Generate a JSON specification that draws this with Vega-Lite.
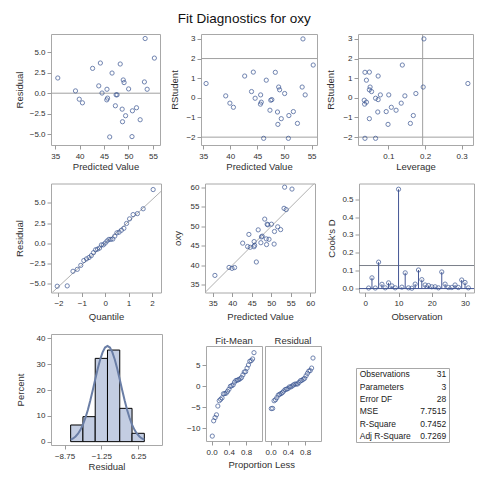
{
"$schema": "https://vega.github.io/schema/vega-lite/v6.json",
"background": "white",
"padding": {"left": 13, "top": 11, "right": 5, "bottom": 5},
"title": {"text": "Fit Diagnostics for oxy", "fontSize": 13.5, "fontWeight": "normal", "anchor": "middle", "offset": 8, "color": "#111111"},
"config": {
  "font": "Liberation Sans",
  "view": {"stroke": "#a8a8a8", "strokeWidth": 1},
  "axis": {"grid": false, "domain": false, "tickColor": "#9a9a9a", "tickSize": 4, "labelFontSize": 8, "labelColor": "#303030", "titleFontSize": 9.5, "titleFontWeight": "normal", "titleColor": "#303030", "labelPadding": 2, "labelFlush": false, "labelOverlap": false},
  "axisX": {"labelPadding": 3, "titlePadding": 1},
  "point": {"shape": "circle", "filled": false, "size": 18, "strokeWidth": 1, "color": "#34508f"}
},
"datasets": {
  "obs": [
    {"obs":1,"pred":44.59,"res":0.02,"rstud":-0.02,"lev":0.065,"cook":0.003,"oxy":44.609},
    {"obs":2,"pred":48.78,"res":-3.47,"rstud":-1.35,"lev":0.099,"cook":0.060,"oxy":45.313},
    {"obs":3,"pred":53.82,"res":0.48,"rstud":0.15,"lev":0.101,"cook":0.003,"oxy":54.297},
    {"obs":4,"pred":55.30,"res":4.27,"rstud":1.67,"lev":0.138,"cook":0.148,"oxy":59.571},
    {"obs":5,"pred":51.64,"res":-1.77,"rstud":-0.70,"lev":0.094,"cook":0.024,"oxy":49.874},
    {"obs":6,"pred":43.92,"res":0.89,"rstud":0.32,"lev":0.054,"cook":0.004,"oxy":44.811},
    {"obs":7,"pred":42.66,"res":3.02,"rstud":1.11,"lev":0.072,"cook":0.032,"oxy":45.681},
    {"obs":8,"pred":46.64,"res":2.45,"rstud":0.90,"lev":0.040,"cook":0.015,"oxy":49.091},
    {"obs":9,"pred":39.16,"res":0.28,"rstud":0.10,"lev":0.145,"cook":0.004,"oxy":39.442},
    {"obs":10,"pred":53.41,"res":6.65,"rstud":3.00,"lev":0.197,"cook":0.556,"oxy":60.055},
    {"obs":11,"pred":48.93,"res":1.61,"rstud":0.55,"lev":0.050,"cook":0.008,"oxy":50.541},
    {"obs":12,"pred":35.54,"res":1.85,"rstud":0.73,"lev":0.317,"cook":0.088,"oxy":37.388},
    {"obs":13,"pred":45.56,"res":-0.81,"rstud":-0.32,"lev":0.035,"cook":0.004,"oxy":44.754},
    {"obs":14,"pred":47.47,"res":-0.20,"rstud":-0.12,"lev":0.034,"cook":0.002,"oxy":47.273},
    {"obs":15,"pred":48.31,"res":3.55,"rstud":1.30,"lev":0.036,"cook":0.025,"oxy":51.855},
    {"obs":16,"pred":52.39,"res":-3.23,"rstud":-1.30,"lev":0.160,"cook":0.104,"oxy":49.156},
    {"obs":17,"pred":46.16,"res":-5.32,"rstud":-2.06,"lev":0.036,"cook":0.050,"oxy":40.836},
    {"obs":18,"pred":49.41,"res":-2.74,"rstud":-1.06,"lev":0.048,"cook":0.020,"oxy":46.672},
    {"obs":19,"pred":48.71,"res":-1.94,"rstud":-0.72,"lev":0.071,"cook":0.017,"oxy":46.774},
    {"obs":20,"pred":49.10,"res":1.29,"rstud":0.41,"lev":0.048,"cook":0.010,"oxy":50.388},
    {"obs":21,"pred":40.58,"res":-1.17,"rstud":-0.48,"lev":0.108,"cook":0.010,"oxy":39.407},
    {"obs":22,"pred":45.60,"res":0.48,"rstud":0.15,"lev":0.078,"cook":0.004,"oxy":46.080},
    {"obs":23,"pred":50.72,"res":-5.28,"rstud":-2.06,"lev":0.065,"cook":0.093,"oxy":45.441},
    {"obs":24,"pred":53.26,"res":1.37,"rstud":0.55,"lev":0.195,"cook":0.025,"oxy":54.625},
    {"obs":25,"pred":45.72,"res":-0.60,"rstud":-0.22,"lev":0.040,"cook":0.006,"oxy":45.118},
    {"obs":26,"pred":39.93,"res":-0.73,"rstud":-0.27,"lev":0.135,"cook":0.006,"oxy":39.203},
    {"obs":27,"pred":47.32,"res":-1.53,"rstud":-0.63,"lev":0.121,"cook":0.020,"oxy":45.790},
    {"obs":28,"pred":50.03,"res":0.52,"rstud":0.22,"lev":0.175,"cook":0.006,"oxy":50.545},
    {"obs":29,"pred":50.81,"res":-2.14,"rstud":-0.90,"lev":0.168,"cook":0.048,"oxy":48.673},
    {"obs":30,"pred":44.25,"res":3.67,"rstud":1.31,"lev":0.048,"cook":0.034,"oxy":47.920},
    {"obs":31,"pred":47.67,"res":-0.20,"rstud":-0.09,"lev":0.072,"cook":0.004,"oxy":47.467}
  ],
  "fitmean": [
    {"p":0.016,"v":-11.84},{"p":0.048,"v":-8.22},{"p":0.081,"v":-7.45},{"p":0.113,"v":-6.80},{"p":0.145,"v":-4.72},
    {"p":0.177,"v":-3.46},{"p":0.210,"v":-3.13},{"p":0.242,"v":-2.79},{"p":0.274,"v":-1.82},{"p":0.306,"v":-1.78},
    {"p":0.339,"v":-1.66},{"p":0.371,"v":-1.22},{"p":0.403,"v":-0.74},{"p":0.435,"v":-0.06},{"p":0.468,"v":0.09},
    {"p":0.500,"v":0.29},{"p":0.532,"v":0.93},{"p":0.565,"v":1.33},{"p":0.597,"v":1.40},{"p":0.629,"v":1.55},
    {"p":0.661,"v":1.72},{"p":0.694,"v":2.03},{"p":0.726,"v":2.65},{"p":0.758,"v":3.34},{"p":0.790,"v":3.43},
    {"p":0.823,"v":4.26},{"p":0.855,"v":5.01},{"p":0.887,"v":5.88},{"p":0.919,"v":6.03},{"p":0.952,"v":6.44},
    {"p":0.984,"v":7.92}
  ],
  "resid": [
    {"p":0.016,"v":-5.32},{"p":0.048,"v":-5.28},{"p":0.081,"v":-3.47},{"p":0.113,"v":-3.23},{"p":0.145,"v":-2.74},
    {"p":0.177,"v":-2.14},{"p":0.210,"v":-1.94},{"p":0.242,"v":-1.77},{"p":0.274,"v":-1.53},{"p":0.306,"v":-1.17},
    {"p":0.339,"v":-0.81},{"p":0.371,"v":-0.73},{"p":0.403,"v":-0.60},{"p":0.435,"v":-0.20},{"p":0.468,"v":-0.20},
    {"p":0.500,"v":0.02},{"p":0.532,"v":0.28},{"p":0.565,"v":0.48},{"p":0.597,"v":0.48},{"p":0.629,"v":0.52},
    {"p":0.661,"v":0.89},{"p":0.694,"v":1.29},{"p":0.726,"v":1.37},{"p":0.758,"v":1.61},{"p":0.790,"v":1.85},
    {"p":0.823,"v":2.45},{"p":0.855,"v":3.02},{"p":0.887,"v":3.55},{"p":0.919,"v":3.67},{"p":0.952,"v":4.27},
    {"p":0.984,"v":6.65}
  ],
  "qq": [
    {"q":-2.054,"r":-5.32},{"q":-1.626,"r":-5.28},{"q":-1.379,"r":-3.47},{"q":-1.195,"r":-3.23},{"q":-1.045,"r":-2.74},
    {"q":-0.915,"r":-2.14},{"q":-0.800,"r":-1.94},{"q":-0.693,"r":-1.77},{"q":-0.595,"r":-1.53},{"q":-0.502,"r":-1.17},
    {"q":-0.412,"r":-0.81},{"q":-0.327,"r":-0.73},{"q":-0.243,"r":-0.60},{"q":-0.161,"r":-0.20},{"q":-0.080,"r":-0.20},
    {"q":0.000,"r":0.02},{"q":0.080,"r":0.28},{"q":0.161,"r":0.48},{"q":0.243,"r":0.48},{"q":0.327,"r":0.52},
    {"q":0.412,"r":0.89},{"q":0.502,"r":1.29},{"q":0.595,"r":1.37},{"q":0.693,"r":1.61},{"q":0.800,"r":1.85},
    {"q":0.915,"r":2.45},{"q":1.045,"r":3.02},{"q":1.195,"r":3.55},{"q":1.379,"r":3.67},{"q":1.626,"r":4.27},
    {"q":2.054,"r":6.65}
  ],
  "qqline": [{"q":-2.6,"r":-6.99},{"q":2.6,"r":6.99}],
  "diag": [{"pred":32,"oxy":32},{"pred":62,"oxy":62}],
  "hist": [
    {"lo":-7.5,"hi":-5,"pct":6.45},{"lo":-5,"hi":-2.5,"pct":9.68},{"lo":-2.5,"hi":0,"pct":32.26},
    {"lo":0,"hi":2.5,"pct":35.48},{"lo":2.5,"hi":5,"pct":12.90},{"lo":5,"hi":7.5,"pct":3.23}
  ],
  "normal": [
    {"lo":-7.5,"pct":0.76},{"lo":-7,"pct":1.25},{"lo":-6.5,"pct":2.00},{"lo":-6,"pct":3.08},{"lo":-5.5,"pct":4.58},{"lo":-5,"pct":6.59},
    {"lo":-4.5,"pct":9.15},{"lo":-4,"pct":12.27},{"lo":-3.5,"pct":15.90},{"lo":-3,"pct":19.91},{"lo":-2.5,"pct":24.08},{"lo":-2,"pct":28.13},
    {"lo":-1.5,"pct":31.74},{"lo":-1,"pct":34.60},{"lo":-0.5,"pct":36.45},{"lo":0,"pct":37.08},{"lo":0.5,"pct":36.45},{"lo":1,"pct":34.60},
    {"lo":1.5,"pct":31.74},{"lo":2,"pct":28.13},{"lo":2.5,"pct":24.08},{"lo":3,"pct":19.91},{"lo":3.5,"pct":15.90},{"lo":4,"pct":12.27},
    {"lo":4.5,"pct":9.15},{"lo":5,"pct":6.59},{"lo":5.5,"pct":4.58},{"lo":6,"pct":3.08},{"lo":6.5,"pct":2.00},{"lo":7,"pct":1.25},{"lo":7.5,"pct":0.76}
  ],
  "refres": [{"res":0}],
  "refrs": [{"rstud":-2},{"rstud":2}],
  "reflev": [{"lev":0.1935}],
  "refcook": [{"cook":0.129}],
  "basecook": [{"cook":0}],
  "stats": [
    {"stat":"Observations","val":"31"},{"stat":"Parameters","val":"3"},{"stat":"Error DF","val":"28"},
    {"stat":"MSE","val":"7.7515"},{"stat":"R-Square","val":"0.7452"},{"stat":"Adj R-Square","val":"0.7269"}
  ]
},
"spacing": 11.5,
"vconcat": [
  {"hconcat": [
    {"width": 109, "height": 111, "layer": [
      {"data": {"name": "refres"}, "mark": {"type": "rule", "color": "#a0a0a0"},
       "encoding": {"y": {"field": "res", "type": "quantitative", "title": "Residual", "scale": {"domain": [-6.3, 7.2], "nice": false, "zero": false}}}},
      {"data": {"name": "obs"}, "mark": "point",
       "encoding": {
        "x": {"field": "pred", "type": "quantitative", "title": "Predicted Value", "scale": {"domain": [34.15, 56.45], "nice": false, "zero": false}, "axis": {"values": [35, 40, 45, 50, 55], "tickCount": 20, "format": "d"}},
        "y": {"field": "res", "type": "quantitative", "title": "Residual", "scale": {"domain": [-6.3, 7.2], "nice": false, "zero": false}, "axis": {"values": [-5, -2.5, 0, 2.5, 5], "tickCount": 20, "format": ".1f", "minExtent": 20, "maxExtent": 20, "titlePadding": 7}}}}
    ]},
    {"width": 116, "height": 111, "layer": [
      {"data": {"name": "refrs"}, "mark": {"type": "rule", "color": "#a0a0a0"},
       "encoding": {"y": {"field": "rstud", "type": "quantitative", "title": "RStudent", "scale": {"domain": [-2.4, 3.25], "nice": false, "zero": false}}}},
      {"data": {"name": "obs"}, "mark": "point",
       "encoding": {
        "x": {"field": "pred", "type": "quantitative", "title": "Predicted Value", "scale": {"domain": [34.6, 56.0], "nice": false, "zero": false}, "axis": {"values": [35, 40, 45, 50, 55], "tickCount": 20, "format": "d"}},
        "y": {"field": "rstud", "type": "quantitative", "title": "RStudent", "scale": {"domain": [-2.4, 3.25], "nice": false, "zero": false}, "axis": {"values": [-2, -1, 0, 1, 2, 3], "tickCount": 20, "format": "d", "minExtent": 14, "maxExtent": 14, "titlePadding": 8}}}}
    ]},
    {"width": 115, "height": 111, "layer": [
      {"data": {"name": "refrs"}, "mark": {"type": "rule", "color": "#a0a0a0"},
       "encoding": {"y": {"field": "rstud", "type": "quantitative", "title": "RStudent", "scale": {"domain": [-2.4, 3.25], "nice": false, "zero": false}}}},
      {"data": {"name": "reflev"}, "mark": {"type": "rule", "color": "#a0a0a0"},
       "encoding": {"x": {"field": "lev", "type": "quantitative", "title": "Leverage", "scale": {"domain": [0.017, 0.331], "nice": false, "zero": false}}}},
      {"data": {"name": "obs"}, "mark": "point",
       "encoding": {
        "x": {"field": "lev", "type": "quantitative", "title": "Leverage", "scale": {"domain": [0.017, 0.331], "nice": false, "zero": false}, "axis": {"values": [0.1, 0.2, 0.3], "tickCount": 20, "format": ".1f"}},
        "y": {"field": "rstud", "type": "quantitative", "title": "RStudent", "scale": {"domain": [-2.4, 3.25], "nice": false, "zero": false}, "axis": {"values": [-2, -1, 0, 1, 2, 3], "tickCount": 20, "format": "d", "minExtent": 14, "maxExtent": 14, "titlePadding": 9}}}}
    ]}
  ], "spacing": 41, "bounds": "flush"},
  {"hconcat": [
    {"width": 110, "height": 109, "layer": [
      {"data": {"name": "qqline"}, "mark": {"type": "line", "color": "#b0b0b0", "clip": true, "strokeWidth": 1},
       "encoding": {
        "x": {"field": "q", "type": "quantitative", "title": "Quantile", "scale": {"domain": [-2.32, 2.39], "nice": false, "zero": false}},
        "y": {"field": "r", "type": "quantitative", "title": "Residual", "scale": {"domain": [-6.1, 7.4], "nice": false, "zero": false}}}},
      {"data": {"name": "qq"}, "mark": "point",
       "encoding": {
        "x": {"field": "q", "type": "quantitative", "title": "Quantile", "scale": {"domain": [-2.32, 2.39], "nice": false, "zero": false}, "axis": {"values": [-2, -1, 0, 1, 2], "tickCount": 20, "format": "d", "titlePadding": 4}},
        "y": {"field": "r", "type": "quantitative", "title": "Residual", "scale": {"domain": [-6.1, 7.4], "nice": false, "zero": false}, "axis": {"values": [-5, -2.5, 0, 2.5, 5], "tickCount": 20, "format": ".1f", "minExtent": 20, "maxExtent": 20, "titlePadding": 7}}}}
    ]},
    {"width": 110, "height": 109, "layer": [
      {"data": {"name": "diag"}, "mark": {"type": "line", "color": "#b0b0b0", "clip": true, "strokeWidth": 1},
       "encoding": {
        "x": {"field": "pred", "type": "quantitative", "title": "Predicted Value", "scale": {"domain": [33, 61.2], "nice": false, "zero": false}},
        "y": {"field": "oxy", "type": "quantitative", "title": "oxy", "scale": {"domain": [33, 61], "nice": false, "zero": false}}}},
      {"data": {"name": "obs"}, "mark": "point",
       "encoding": {
        "x": {"field": "pred", "type": "quantitative", "title": "Predicted Value", "scale": {"domain": [33, 61.2], "nice": false, "zero": false}, "axis": {"values": [35, 40, 45, 50, 55, 60], "tickCount": 20, "format": "d", "titlePadding": 4}},
        "y": {"field": "oxy", "type": "quantitative", "title": "oxy", "scale": {"domain": [33, 61], "nice": false, "zero": false}, "axis": {"values": [35, 40, 45, 50, 55, 60], "tickCount": 20, "format": "d", "minExtent": 15, "maxExtent": 15, "titlePadding": 7.5}}}}
    ]},
    {"width": 115, "height": 109, "layer": [
      {"data": {"name": "refcook"}, "mark": {"type": "rule", "color": "#7a7f8a"},
       "encoding": {"y": {"field": "cook", "type": "quantitative", "title": "Cook's D", "scale": {"domain": [-0.022, 0.588], "nice": false, "zero": false}}}},
      {"data": {"name": "basecook"}, "mark": {"type": "rule", "color": "#445694"},
       "encoding": {"y": {"field": "cook", "type": "quantitative", "title": "Cook's D", "scale": {"domain": [-0.022, 0.588], "nice": false, "zero": false}}}},
      {"data": {"name": "obs"}, "mark": {"type": "rule", "color": "#445694"},
       "encoding": {
        "x": {"field": "obs", "type": "quantitative", "title": "Observation", "scale": {"domain": [-1.9, 32.7], "nice": false, "zero": false}},
        "y": {"field": "cook", "type": "quantitative", "title": "Cook's D", "scale": {"domain": [-0.022, 0.588], "nice": false, "zero": false}},
        "y2": {"datum": 0}}},
      {"data": {"name": "obs"}, "mark": "point",
       "encoding": {
        "x": {"field": "obs", "type": "quantitative", "title": "Observation", "scale": {"domain": [-1.9, 32.7], "nice": false, "zero": false}, "axis": {"values": [0, 10, 20, 30], "tickCount": 20, "format": "d", "titlePadding": 4}},
        "y": {"field": "cook", "type": "quantitative", "title": "Cook's D", "scale": {"domain": [-0.022, 0.588], "nice": false, "zero": false}, "axis": {"values": [0, 0.1, 0.2, 0.3, 0.4, 0.5], "tickCount": 20, "format": ".1f", "minExtent": 17, "maxExtent": 17, "titlePadding": 5.5}}}}
    ]}
  ], "spacing": 44, "bounds": "flush"},
  {"hconcat": [
    {"width": 111, "height": 111, "layer": [
      {"data": {"name": "hist"}, "mark": {"type": "bar", "fill": "#c3cde2", "stroke": "#000000", "strokeWidth": 1},
       "encoding": {
        "x": {"field": "lo", "type": "quantitative", "title": "Residual", "scale": {"domain": [-11.5, 11.1], "nice": false, "zero": false}, "axis": {"values": [-8.75, -1.25, 6.25], "tickCount": 20, "format": ".2f"}},
        "x2": {"field": "hi"},
        "y": {"field": "pct", "type": "quantitative", "title": "Percent", "scale": {"domain": [-1.3, 41.7], "nice": false, "zero": false}, "axis": {"values": [0, 10, 20, 30, 40], "tickCount": 20, "format": "d", "minExtent": 15, "maxExtent": 15, "titlePadding": 10.5}},
        "y2": {"datum": 0}}},
      {"data": {"name": "normal"}, "mark": {"type": "line", "color": "#6a7ea6", "strokeWidth": 2},
       "encoding": {
        "x": {"field": "lo", "type": "quantitative", "title": "Residual", "scale": {"domain": [-11.5, 11.1], "nice": false, "zero": false}},
        "y": {"field": "pct", "type": "quantitative", "title": "Percent", "scale": {"domain": [-1.3, 41.7], "nice": false, "zero": false}}}}
    ]},
    {"hconcat": [
      {"vconcat": [
        {"width": 10, "height": 1, "view": {"stroke": null}, "data": {"values": [{}]}, "mark": {"type": "rule", "opacity": 0}, "encoding": {}},
        {"hconcat": [
          {"width": 56, "height": 95, "title": {"text": "Fit-Mean", "fontSize": 9.5, "fontWeight": "normal", "frame": "group", "anchor": "middle", "offset": 1, "color": "#303030"},
           "data": {"name": "fitmean"}, "mark": "point",
           "encoding": {
            "x": {"field": "p", "type": "quantitative", "title": null, "scale": {"domain": [-0.13, 1.17], "nice": false, "zero": false}, "axis": {"values": [0, 0.4, 0.8], "tickCount": 20, "format": ".1f"}},
            "y": {"field": "v", "type": "quantitative", "title": null, "scale": {"domain": [-13, 9.5], "nice": false, "zero": false}, "axis": {"values": [-10, -5, 0, 5], "tickCount": 20, "format": "d", "minExtent": 17, "maxExtent": 17}}}},
          {"width": 56, "height": 95, "title": {"text": "Residual", "fontSize": 9.5, "fontWeight": "normal", "frame": "group", "anchor": "middle", "offset": 1, "color": "#303030"},
           "data": {"name": "resid"}, "mark": "point",
           "encoding": {
            "x": {"field": "p", "type": "quantitative", "title": null, "scale": {"domain": [-0.13, 1.17], "nice": false, "zero": false}, "axis": {"values": [0, 0.4, 0.8], "tickCount": 20, "format": ".1f"}},
            "y": {"field": "v", "type": "quantitative", "title": null, "scale": {"domain": [-13, 9.5], "nice": false, "zero": false}, "axis": null}}}
        ], "spacing": 1, "title": {"text": "Proportion Less", "orient": "bottom", "anchor": "middle", "fontSize": 9.5, "fontWeight": "normal", "offset": 3, "dx": 8, "color": "#303030"}}
      ], "spacing": 0},
      {"vconcat": [
        {"width": 10, "height": 33, "view": {"stroke": null}, "data": {"values": [{}]}, "mark": {"type": "rule", "opacity": 0}, "encoding": {}},
        {"width": 93, "height": 74, "data": {"name": "stats"},
         "layer": [
          {"mark": {"type": "text", "align": "left", "fontSize": 8.5, "color": "#222222"},
           "encoding": {
            "x": {"datum": 0.04, "type": "quantitative", "scale": {"domain": [0, 1]}, "axis": null},
            "y": {"field": "stat", "type": "nominal", "sort": null, "axis": null},
            "text": {"field": "stat"}}},
          {"mark": {"type": "text", "align": "right", "fontSize": 8.5, "color": "#222222"},
           "encoding": {
            "x": {"datum": 0.97, "type": "quantitative", "scale": {"domain": [0, 1]}, "axis": null},
            "y": {"field": "stat", "type": "nominal", "sort": null, "axis": null},
            "text": {"field": "val"}}}
         ]}
      ], "spacing": 0}
    ], "spacing": 33}
  ], "spacing": 22}
]
}
